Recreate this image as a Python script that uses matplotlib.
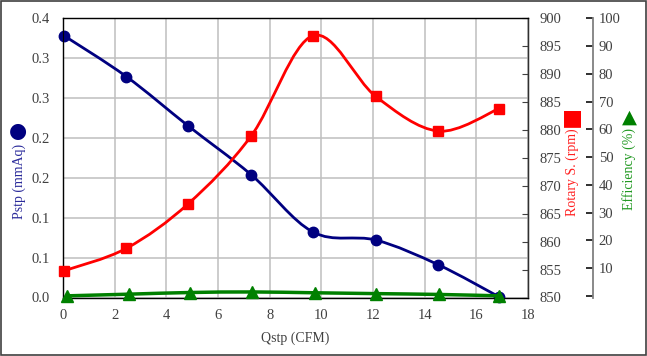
import matplotlib
matplotlib.use("Agg")
import matplotlib.pyplot as plt
from matplotlib.path import Path
from matplotlib.patches import PathPatch, Rectangle
import numpy as np

# data
q_cfm = [0.05, 2.45, 4.85, 7.28, 9.68, 12.11, 14.53, 16.87]
q_eff = [0.17, 2.55, 4.92, 7.30, 9.74, 12.11, 14.54, 16.87]
pstp = [0.328, 0.277, 0.215, 0.154, 0.082, 0.072, 0.041, 0.001]
rotary = [854.8, 858.8, 866.8, 878.9, 896.9, 886.0, 879.8, 883.8]
efficiency = [0.0, 0.6, 1.2, 1.4, 1.1, 0.8, 0.5, 0.0]

p_ticks = [0, 0.05, 0.1, 0.15, 0.2, 0.25, 0.3, 0.35]
p_labels = ['0.0', '0.1', '0.1', '0.2', '0.2', '0.3', '0.3', '0.4']
x_ticks = [0, 2, 4, 6, 8, 10, 12, 14, 16, 18]
r_ticks = [850, 855, 860, 865, 870, 875, 880, 885, 890, 895, 900]
e_ticks = [0, 10, 20, 30, 40, 50, 60, 70, 80, 90, 100]
e_labels = [''] + [str(v) for v in e_ticks[1:]]

NAVY = '#000080'
RED = '#FF0000'
GREEN = '#008000'
TXT = '#404040'

plt.rcParams['font.family'] = ['Liberation Serif', 'DejaVu Sans']
plt.rcParams['font.size'] = 10.5


def smooth_path(x, y):
  # excel style smoothed line: bezier segments with catmull-rom tangents
  pts = np.column_stack([x, y]).astype(float)
  n = len(pts)
  verts = [pts[0]]
  codes = [Path.MOVETO]
  for i in range(n - 1):
    p0 = pts[max(i - 1, 0)]
    p1 = pts[i]
    p2 = pts[i + 1]
    p3 = pts[min(i + 2, n - 1)]
    c1 = p1 + (p2 - p0) / 6.0
    c2 = p2 - (p3 - p1) / 6.0
    verts += [c1, c2, p2]
    codes += [Path.CURVE4] * 3
  return Path(verts, codes)


fig = plt.figure(figsize=(6.47, 3.56), dpi=100)
ax1 = fig.add_axes([63 / 647, 1 - 297.5 / 356, 465 / 647, 279.2 / 356])
ax2 = ax1.twinx()
ax3 = ax1.twinx()

ax1.set_xlim(0, 18)
ax1.set_ylim(0, 0.35)
ax1.set_xticks(x_ticks)
ax1.set_yticks(p_ticks)
ax1.set_yticklabels(p_labels)
ax1.grid(True, color='#BFBFBF', linewidth=1.1)
ax1.set_axisbelow(True)
ax1.tick_params(axis='y', length=0, colors=TXT, labelsize=10.5, pad=9.5)
ax1.tick_params(axis='x', length=0, colors=TXT, labelsize=10.5, pad=8.5)
for s in ax1.spines.values():
  s.set_color('#303030')
  s.set_linewidth(1.0)

# Pstp
ax1.add_patch(PathPatch(smooth_path(q_cfm, pstp), fill=False, edgecolor=NAVY, lw=2.0, zorder=3))
ax1.plot(q_cfm, pstp, 'o', color=NAVY, ms=7.5, zorder=4, clip_on=False)

# rotary speed
ax2.set_ylim(850, 900)
ax2.set_yticks(r_ticks)
ax2.tick_params(axis='y', direction='in', length=4, colors=TXT, labelsize=10.5, pad=8)
ax2.spines['right'].set_color('#303030')
ax2.add_patch(PathPatch(smooth_path(q_cfm, rotary), fill=False, edgecolor=RED, lw=2.0, zorder=3))
ax2.plot(q_cfm, rotary, 's', color=RED, ms=7.5, zorder=4, clip_on=False)

# efficiency
ax3.set_ylim(-0.6, 100)
ax3.set_yticks(e_ticks)
ax3.set_yticklabels(e_labels)
ax3.spines['right'].set_position(('axes', 1.1398))
ax3.spines['right'].set_color('#808080')
ax3.spines['right'].set_linewidth(1.3)
ax3.tick_params(axis='y', direction='in', length=5, width=1.3, color='#202020',
                labelcolor=TXT, labelsize=10.5, pad=4)
for s in ['top', 'bottom', 'left']:
  ax3.spines[s].set_visible(False)
ax3.add_patch(PathPatch(smooth_path(q_eff, efficiency), fill=False, edgecolor=GREEN, lw=2.5,
                        zorder=3, clip_on=False))
ax3.plot(q_eff, efficiency, '^', color=GREEN, ms=8, zorder=4, clip_on=False)

# axis titles
fig.text(295.5 / 647, 1 - 338 / 356, 'Qstp (CFM)', ha='center', va='center', color=TXT, fontsize=10)
fig.text(19 / 647, 1 - 181 / 356, 'Pstp (mmAq)', ha='center', va='center', rotation=90,
         color='#2A2A9A', fontsize=10)
fig.text(18 / 647, 1 - 131 / 356, '\u25cf', ha='center', va='center', color=NAVY, fontsize=15,
         family='DejaVu Sans')
fig.text(572.5 / 647, 1 - 172 / 356, 'Rotary S. (rpm)', ha='center', va='center', rotation=90,
         color='#FF2020', fontsize=10)
fig.text(572 / 647, 1 - 118 / 356, '\u25a0', ha='center', va='center', color=RED, fontsize=16,
         family='DejaVu Sans')
fig.text(629 / 647, 1 - 169.5 / 356, 'Efficiency (%)', ha='center', va='center', rotation=90,
         color='#229922', fontsize=10)
fig.text(629.5 / 647, 1 - 117 / 356, '\u25b2', ha='center', va='center', color=GREEN, fontsize=14,
         family='DejaVu Sans')

# outer frame
fig.add_artist(Rectangle((0.001, 0.002), 0.997, 0.996, transform=fig.transFigure, fill=False,
                         edgecolor='#404040', lw=1.2))

fig.savefig('out.png', dpi=100)
